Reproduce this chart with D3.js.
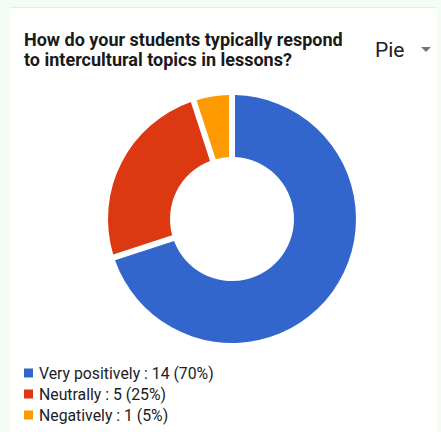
<!DOCTYPE html>
<html>
<head>
<meta charset="utf-8">
<script src="https://cdn.jsdelivr.net/npm/d3@7"></script>
<style>
  html, body { margin: 0; padding: 0; background: #f3fcf5; }
  svg { display: block; }
</style>
</head>
<body>
<svg id="chart" width="441" height="432"></svg>
<script>
// Survey responses
const categories = ["Very positively", "Neutrally", "Negatively"];
const counts = [14, 5, 1];
const percents = [70, 25, 5];
const colors = ["#3366cc", "#dc3912", "#ff9900"];
const titleLines = ["How do your students typically respond", "to intercultural topics in lessons?"];

const svg = d3.select("#chart");
const W = 441, H = 432;

// card panel
svg.append("rect").attr("x", 10).attr("y", 7).attr("width", 427).attr("height", H - 7)
  .attr("fill", "#ffffff");
svg.append("line").attr("x1", 10).attr("x2", 437).attr("y1", 7.5).attr("y2", 7.5)
  .attr("stroke", "#e6ece8").attr("stroke-width", 1);

// title
const title = svg.append("text")
  .attr("font-family", "Roboto, Arial, sans-serif")
  .attr("font-weight", 700)
  .attr("font-size", 18)
  .attr("fill", "#1a1a1a");
titleLines.forEach((t, i) => {
  title.append("tspan").attr("x", 24).attr("y", 45.5 + i * 20.5).text(t);
});

// chart type selector
svg.append("text").attr("x", 375).attr("y", 57)
  .attr("font-family", "Roboto, Arial, sans-serif")
  .attr("font-size", 21).attr("fill", "#202124").text("Pie");
svg.append("path").attr("d", "M421,47 L431,47 L426,52 Z").attr("fill", "#757575");

// donut
const cx = 232, cy = 219, outerR = 124, innerR = 62;
const pie = d3.pie().sort(null).value(d => d);
const arc = d3.arc().innerRadius(innerR).outerRadius(outerR)
  .padAngle(6 / outerR).padRadius(outerR);

svg.append("g").attr("transform", `translate(${cx},${cy})`)
  .selectAll("path")
  .data(pie(counts))
  .join("path")
  .attr("d", arc)
  .attr("fill", (d, i) => colors[i]);

// legend
const legend = svg.append("g");
const rows = legend.selectAll("g")
  .data(categories)
  .join("g")
  .attr("transform", (d, i) => `translate(24,${373 + i * 21})`);
rows.append("rect").attr("x", 0).attr("y", -4.5).attr("width", 9).attr("height", 9)
  .attr("fill", (d, i) => colors[i]);
rows.append("text").attr("x", 15).attr("y", 0).attr("dy", "0.35em")
  .attr("font-family", "Roboto, Arial, sans-serif")
  .attr("font-size", 15.8).attr("fill", "#202124")
  .text((d, i) => `${d} : ${counts[i]} (${percents[i]}%)`);
</script>
</body>
</html>
